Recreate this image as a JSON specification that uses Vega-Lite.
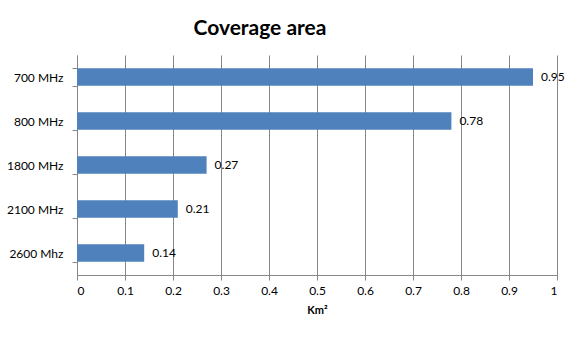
{
  "$schema": "https://vega.github.io/schema/vega-lite/v6.json",
  "autosize": "none",
  "width": 480,
  "height": 220,
  "padding": {"left": 77, "top": 55, "right": 20, "bottom": 62},
  "background": "white",
  "title": {
    "text": "Coverage area",
    "font": "Lato",
    "fontSize": 21,
    "fontWeight": "bold",
    "color": "#000000",
    "anchor": "middle",
    "dx": -57,
    "baseline": "bottom",
    "offset": -11
  },
  "data": {
    "values": [
      {"band": "700 MHz", "area": 0.95},
      {"band": "800 MHz", "area": 0.78},
      {"band": "1800 MHz", "area": 0.27},
      {"band": "2100 MHz", "area": 0.21},
      {"band": "2600 Mhz", "area": 0.14}
    ]
  },
  "encoding": {
    "y": {
      "field": "band",
      "type": "nominal",
      "sort": null,
      "scale": {"paddingInner": 0.6, "paddingOuter": 0.3},
      "axis": {
        "title": null,
        "tickBand": "extent",
        "tickSize": 5,
        "tickColor": "#868686",
        "domainColor": "#868686",
        "labelFont": "Lato",
        "labelFontSize": 12,
        "labelColor": "#000000",
        "labelPadding": 9,
        "grid": false
      }
    },
    "x": {
      "field": "area",
      "type": "quantitative",
      "scale": {"domain": [0, 1], "nice": false},
      "axis": {
        "title": "Km²",
        "titleFont": "Lato",
        "titleFontSize": 11,
        "titleFontWeight": "bold",
        "titleColor": "#000000",
        "titlePadding": 8,
        "values": [0, 0.1, 0.2, 0.3, 0.4, 0.5, 0.6, 0.7, 0.8, 0.9, 1],
        "format": "~g",
        "labelFont": "Lato",
        "labelFontSize": 12,
        "labelColor": "#000000",
        "labelPadding": 5,
        "tickSize": 5,
        "tickColor": "#868686",
        "domainColor": "#868686",
        "grid": true,
        "gridColor": "#868686",
        "gridWidth": 1
      }
    }
  },
  "layer": [
    {"mark": {"type": "bar", "color": "#4F81BD"}},
    {
      "mark": {"type": "text", "align": "left", "baseline": "middle", "dx": 8, "font": "Lato", "fontSize": 12, "color": "#000000"},
      "encoding": {"text": {"field": "area", "type": "quantitative", "format": ".2f"}}
    }
  ],
  "config": {
    "view": {"stroke": null}
  }
}
